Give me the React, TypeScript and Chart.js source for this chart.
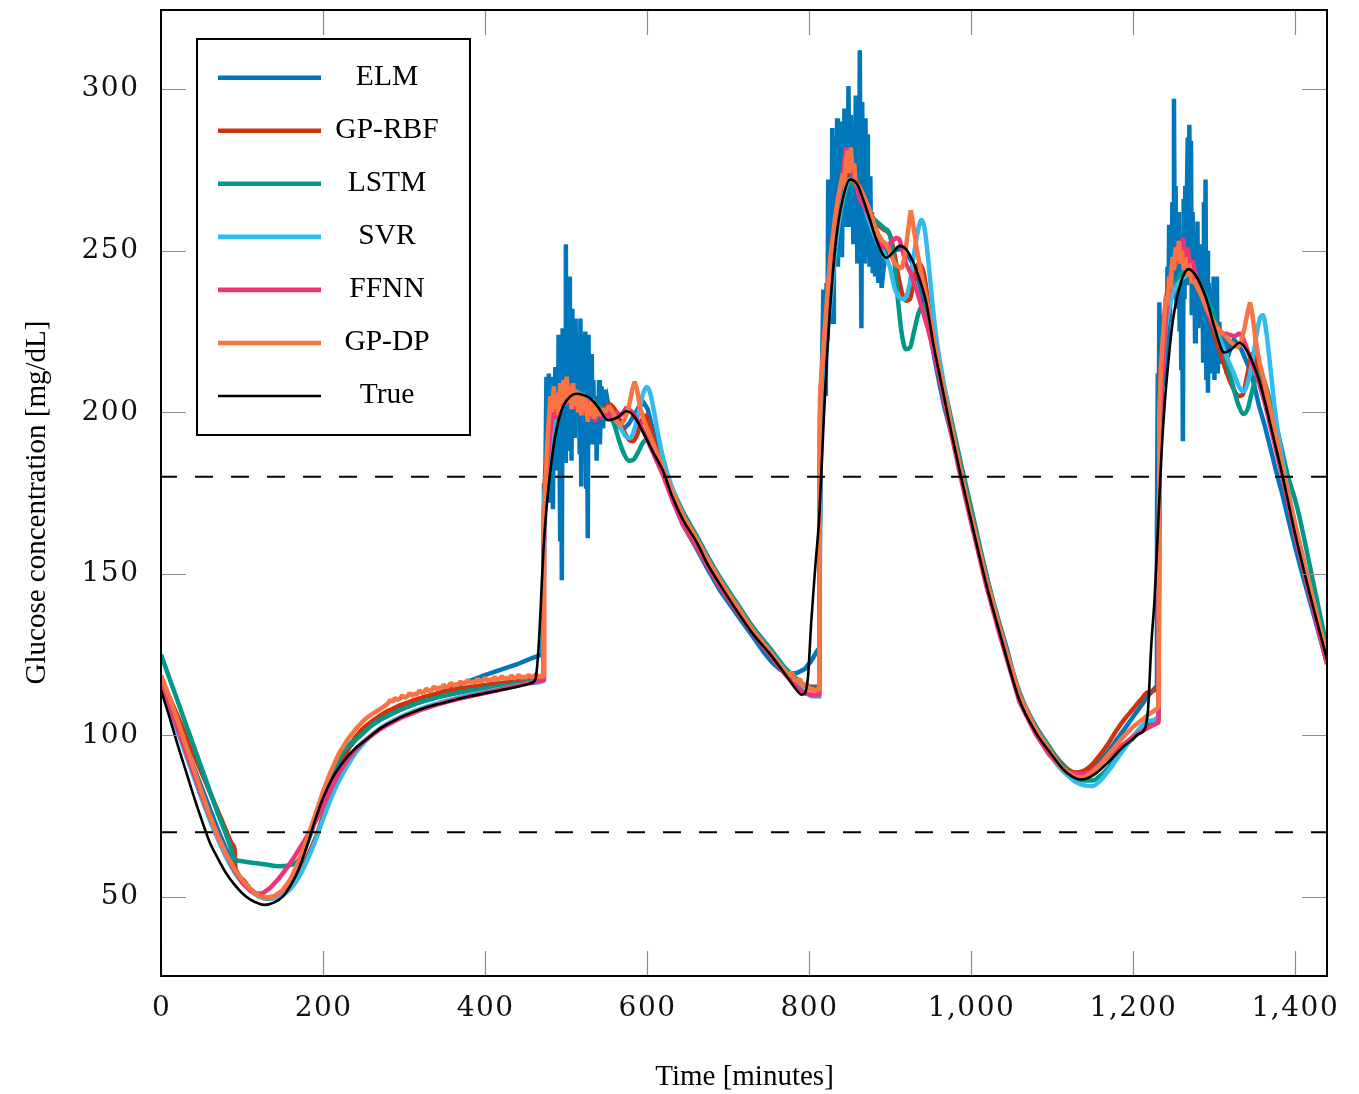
import { useEffect, useRef } from 'react';
import { Chart, registerables } from 'chart.js';

Chart.register(...registerables);

// ---- data: [time (min), glucose (mg/dL)] ----
const ELM: [number, number][] = [
  [0,116.5],[10,110],[20,103.5],[30,97],[40,90.5],[50,84],[60,77.5],[70,71],[80,65],[90,59.5],[100,55],[110,52],[120,50.3],[130,49.5],[140,49.8],[150,51.5],[160,55],[170,60.5],[180,67],[190,74],[200,80.5],[210,86.5],[220,91.5],[230,95.5],[240,98.5],[250,101],[260,103],[270,104.7],[280,106],[290,107.3],[300,108.5],[320,110.7],[340,112.7],[360,114.7],[383,117],[400,118.6],[420,120.3],[440,122],[455,123.6],[468,124.8],[471,125.2],
  [472,150],[473,178],[474,165],[476,211],[477,182],[478,205],[479,212],[480,172],[481,200],[482,211],[483,186],[484,170],[485,196],[486,188],[487,214],[488,192],[489,206],[490,182],[491,224],[492,196],[493,160],[494,215],[495,148],[496,226],[497,200],[498,218],[499,185],[500,252],[501,193],[502,215],[503,188],[504,242],[505,196],[506,218],[507,185],[508,232],[509,200],[510,210],[511,192],[512,229],[513,203],[514,214],[515,198],[516,222],[517,187],[518,229],[519,177],[520,224],[521,205],[522,215],[523,196],[524,225],[525,177],[526,219],[527,161],[528,224],[529,192],[530,212],[531,200],[532,218],[533,190],[534,210],[535,196],[537,205],[538,185],[539,203],[540,193],[541,210],[542,190],[544,208],[546,195],[548,207],[550,198],[552,203],[555,199],
  [560,197],[566,195.5],[572,195],[578,196.5],[584,199],[590,201.5],[596,203],[601,201],[606,196],[612,190],[620,182],[632,173],[645,165],[661,158],[675,151.5],[690,145],[711,137.5],[731,130.5],[745,125.5],[755,122.5],[765,120.3],[775,119.2],[785,119.3],[795,120.5],[803,123],[810,126],[813,127],
  [814,165],[816,209],[818,238],[819,214],[820,226],[821,205],[822,240],[823,222],[824,272],[825,236],[826,262],[827,245],[828,230],[829,288],[830,228],[831,275],[832,250],[833,285],[834,262],[835,291],[836,245],[837,280],[838,258],[839,290],[840,265],[841,248],[842,276],[843,260],[844,294],[845,270],[846,258],[847,285],[848,262],[849,301],[850,272],[851,258],[852,292],[853,266],[854,280],[855,252],[856,285],[857,262],[858,298],[859,270],[860,246],[861,282],[862,260],[863,312],[864,265],[865,226],[866,296],[867,255],[868,285],[869,246],[870,291],[871,260],[872,286],[873,248],[874,270],[875,245],[876,273],[877,250],[878,262],[879,243],[880,257],[882,242],[884,252],[886,240],[888,250],[890,238.5],[893,246],[896,250],[900,252],[905,250],[912,250.5],[920,250],[929,245.5],[937,239.5],[945,231],[950,224],[955,217],[962,208],[968,201],[975,194.5],[982,188],[988,182],[995,175.5],[1000,170],[1008,161],[1019,150],[1028,140.5],[1036,134],[1045,126.5],[1052,119.5],[1060,113],[1070,106],[1080,101.5],[1097,95],[1110,90.5],[1120,88],[1130,87.5],[1140,88],[1150,89.5],[1160,92],[1170,95],[1180,98.5],[1190,102],[1200,105.5],[1210,109],[1220,112.5],[1229,115],
  [1230,165],[1231,212],[1232,188],[1233,234],[1234,205],[1235,226],[1236,196],[1237,230],[1238,208],[1239,222],[1240,212],[1241,235],[1242,215],[1243,245],[1244,222],[1245,258],[1246,228],[1247,250],[1248,235],[1249,265],[1250,240],[1251,297],[1252,245],[1253,270],[1254,232],[1255,262],[1256,240],[1257,262],[1258,225],[1259,255],[1260,213],[1261,248],[1262,191],[1263,266],[1264,235],[1265,270],[1266,240],[1267,268],[1268,285],[1269,245],[1270,289],[1271,250],[1272,284],[1273,230],[1274,262],[1275,238],[1276,255],[1277,222],[1278,250],[1279,232],[1280,259],[1281,226],[1282,252],[1283,228],[1284,245],[1285,230],[1286,250],[1287,216],[1288,265],[1289,224],[1290,272],[1291,210],[1292,250],[1293,206],[1294,240],[1295,214],[1296,232],[1297,212],[1298,238],[1299,215],[1300,242],[1301,210],[1302,236],[1303,218],[1304,242],[1305,212],[1307,228],[1309,215],[1311,224],[1314,217],[1317,222],[1320,219],[1325,222.5],[1330,221],[1335,219],[1340,216],[1345,213],[1350,208.5],[1356,202],[1363,196],[1370,189],[1378,181],[1385,174.5],[1395,164],[1400,159],[1410,149.5],[1420,140.5],[1430,131.5],[1440,122.5],
];

const GP_RBF: [number, number][] = [
  [0,118],[10,112],[20,106.3],[30,100.4],[40,94.5],[50,88.5],[60,82.6],[70,76.7],[80,70.8],[88,66.3],[91,64.5],[92,58.5],[100,55.5],[110,52.5],[120,50.5],[130,49.5],[140,49.6],[150,50.8],[160,53],[170,57],[180,62],[187,66],[193,69.6],[200,75],[207,80],[214,84.5],[225,92],[235,97.5],[247,101.5],[260,104.3],[270,106],[280,107.5],[290,108.7],[300,109.7],[320,111.5],[340,112.9],[360,114],[380,114.9],[400,115.6],[420,116.2],[440,116.7],[460,117.2],[472,117.5],
  [473,170],[476,184],[480,195],[484,201],[488,204],[492,205],[497,206],[503,207],[509,205.5],[515,204.5],[522,204],[530,203],[540,201],[548,201.5],[554,202.5],[560,201],[566,198],[572,194],[578,191.5],[583,191],[588,193],[593,197],[598,199],[604,195.5],[610,190],[615,185.5],[620,182],[632,175],[645,168],[661,161.5],[675,155],[690,148.5],[711,140.5],[731,133],[752,126.5],[772,120],[785,117],[795,115.5],[805,115],[813,115],
  [814,200],[818,212],[822,224],[826,236],[834,255],[842,268],[851,275],[860,271],[867,266.5],[875,262],[884,258.5],[893,256.5],[900,255],[905,250],[910,243],[915,237],[920,234.5],[925,235],[930,241],[936,246],[942,243],[948,233],[955,221],[962,212],[975,196],[988,181],[1000,168],[1019,148],[1036,132.5],[1060,112],[1080,101.5],[1097,96],[1110,92],[1120,89.5],[1130,88.5],[1140,89],[1150,91],[1160,94],[1170,97.5],[1180,101.5],[1190,105],[1200,108],[1210,111],[1220,113.5],[1232,115.5],
  [1233,200],[1237,220],[1240,232],[1245,240],[1250,244.5],[1260,248],[1269,247],[1280,241],[1291,233],[1300,225],[1310,217],[1318,211],[1325,207],[1331,205],[1336,205.5],[1342,212],[1348,218],[1354,214],[1362,205],[1372,195],[1380,187],[1390,176],[1400,165],[1420,144],[1440,124],
];

const LSTM: [number, number][] = [
  [0,125],[10,118],[20,111],[30,104],[40,97],[50,90],[60,83],[70,76],[80,69.5],[87,64.5],[89,62.5],[92,61.5],[100,61],[115,60.5],[130,60],[145,59.5],[158,59.7],[166,60.5],[172,62],[178,65],[185,69.5],[192,75],[200,81.5],[210,88],[220,93],[230,96.5],[247,100],[260,103],[270,104.8],[288,107],[300,108.3],[320,110.2],[340,111.6],[360,112.8],[380,113.8],[400,114.6],[420,115.3],[440,116],[460,116.6],[472,117],
  [473,168],[477,180],[481,190],[485,196],[490,200],[497,203],[505,205],[513,205.5],[522,205],[530,204],[540,202],[548,200.5],[554,199],[560,196],[566,191],[572,187],[578,185],[583,185.2],[589,187.5],[595,190.5],[600,191.5],[607,189],[615,185],[620,182.5],[632,176],[645,169],[661,162],[675,155.5],[690,149],[711,141],[731,133.5],[752,127],[772,120.5],[785,117.5],[795,115.5],[805,114.5],[813,114.5],
  [814,198],[818,210],[822,222],[826,233],[834,253],[842,265],[851,270.5],[860,269.5],[867,266],[875,261],[884,259],[893,257],[900,255],[905,248],[910,235],[915,224],[920,219.5],[925,220],[930,225],[936,231],[942,233],[948,230],[955,223],[962,214],[975,199],[988,184],[1000,171],[1019,150],[1036,134],[1060,113.5],[1080,103],[1097,96.5],[1110,91.5],[1120,89],[1130,87],[1140,86],[1150,86],[1160,87.5],[1170,90],[1180,93.5],[1190,96.5],[1200,99],[1210,101.5],[1220,103.5],[1232,105.5],
  [1233,195],[1237,215],[1240,226],[1245,234],[1250,238.5],[1260,243],[1269,244.5],[1280,241],[1291,236],[1300,230],[1310,222],[1318,214],[1325,207],[1331,202],[1337,199.5],[1342,201],[1348,207],[1355,212],[1362,210],[1370,203],[1380,193],[1392,180],[1400,173.5],[1406,167.6],[1420,151],[1440,127],
];

const SVR: [number, number][] = [
  [0,115],[10,108.5],[20,101.5],[30,94.5],[40,87.5],[50,80.5],[60,74],[70,68],[80,62.5],[90,58],[100,54.5],[110,52],[120,50.3],[130,49.5],[140,49.5],[150,50.5],[160,52.5],[170,56],[180,61],[190,67],[200,74],[210,80.5],[220,86],[230,90.5],[240,94.5],[250,97.5],[260,100],[270,102],[280,103.6],[290,105],[300,106.2],[320,108.2],[340,109.8],[360,111.2],[380,112.4],[400,113.4],[420,114.4],[440,115.4],[460,116.3],[472,116.8],
  [473,170],[477,182],[481,191],[485,197],[490,201],[497,204],[505,205.5],[513,206],[522,205],[530,203.5],[540,201],[548,199.5],[555,198.5],[562,197.5],[568,195],[574,192.5],[579,192],[585,195],[590,200],[595,205.5],[600,207.8],[604,206],[609,200],[614,193],[620,186],[632,176],[645,168],[661,161],[675,154.5],[690,148],[711,140],[731,132.5],[752,126],[772,119.5],[785,116],[795,113.5],[805,112],[813,112],
  [814,198],[818,211],[822,223],[826,232],[834,253],[842,266],[851,272],[860,270],[867,265],[875,259],[884,253],[893,249],[900,245],[906,238.5],[912,235.5],[918,235],[924,239],[930,249],[935,256.5],[939,259.5],[943,257],[948,246],[953,233],[958,222],[966,210],[975,197],[988,181],[1000,168],[1019,148],[1036,132.5],[1060,112],[1080,101],[1097,94.5],[1110,90],[1120,87.5],[1130,85.5],[1140,84.5],[1150,84.3],[1160,86],[1170,89],[1180,92.5],[1190,96],[1200,99.5],[1210,102.5],[1220,104.5],[1232,106],
  [1233,195],[1237,213],[1240,224],[1245,232],[1250,237],[1260,241],[1269,242.5],[1280,239],[1291,233],[1300,227],[1310,221],[1318,216],[1325,212],[1331,208],[1337,206.5],[1342,209],[1348,216],[1353,224],[1357,229],[1361,230],[1365,225],[1370,214],[1376,200],[1385,185],[1400,166],[1420,145],[1440,124.5],
];

const FFNN: [number, number][] = [
  [0,116],[10,109.5],[20,102.5],[30,95.5],[40,88.5],[50,81.5],[60,75],[70,69],[80,63.5],[90,58.5],[100,54.5],[110,52],[118,51],[125,51],[135,52.8],[145,55.5],[155,58.8],[165,62.5],[175,66.5],[182,69.5],[190,73],[200,78],[210,83.5],[220,88.5],[230,92.3],[240,95.5],[250,98],[260,100],[270,101.8],[280,103.3],[290,104.6],[300,105.8],[320,107.8],[340,109.4],[360,110.8],[380,112],[400,113.1],[420,114.2],[440,115.3],[460,116.4],[472,117],
  [473,165],[476,180],[479,189],[482,196],[485,201],[488,198],[491,205],[494,200],[497,208],[500,202],[503,209],[506,203],[509,207],[512,201],[515,206],[518,200],[521,205],[524,199],[527,204],[530,198],[533,203],[536,197],[540,201],[545,198],[550,200],[556,198],[562,200],[568,199],[575,201.5],[582,200],[590,197],[597,193.5],[605,189],[612,185],[620,180.5],[632,172.5],[645,165],[661,158.5],[675,152.5],[690,146],[711,138.5],[731,131.5],[752,125],[772,118.5],[785,115],[795,113],[805,112.5],[813,112.5],
  [814,205],[817,215],[820,225],[824,237],[828,248],[832,257],[836,265],[840,270],[843,276],[846,282],[849,277],[852,279],[855,272],[859,270],[863,266],[868,264],[874,261],[880,257],[886,253],[892,251],[898,251],[903,253],[908,254],[912,253.5],[916,250],[920,246],[926,243],[933,238],[940,232],[947,226],[955,218],[962,210],[975,194.5],[988,179.5],[1000,166.5],[1019,146.5],[1036,131],[1060,110.5],[1080,100.5],[1097,94],[1110,90.5],[1120,88.5],[1130,88],[1140,88],[1150,89],[1160,91],[1170,93.5],[1180,95.5],[1190,97.5],[1200,99.5],[1210,101],[1220,102.5],[1232,104],
  [1233,190],[1235,205],[1238,218],[1241,229],[1244,236],[1247,243],[1250,248],[1253,245],[1256,252],[1259,249],[1262,254],[1265,247],[1268,251],[1271,244],[1274,247],[1279,241],[1285,237],[1291,232],[1297,228],[1304,226],[1311,224.5],[1319,224],[1326,223.5],[1332,224.5],[1337,222.5],[1342,219],[1348,215],[1355,210],[1363,203],[1375,190.5],[1385,180],[1400,162.5],[1420,142],[1440,122],
];

const GP_DP: [number, number][] = [
  [0,118.5],[10,112],[20,105],[30,97.5],[40,90],[50,82.5],[60,75.5],[70,69],[80,63.5],[90,59],[100,55.3],[110,52.5],[120,50.5],[130,49.8],[140,50.2],[150,52],[160,55.5],[170,61],[180,67.5],[190,75],[200,82.5],[210,89],[220,94.5],[230,98.5],[240,101.8],[250,104.5],[260,106.5],[270,108],[277,109.2],
  [280,109.8],[283,110.9],[286,110.4],[289,111.6],[292,110.9],[295,111.3],[298,112.4],[301,111.6],[304,112],[307,113.1],[310,112.2],[313,112.9],[316,112.6],[319,113.9],[322,113.1],[325,113.4],[328,114.5],[331,113.6],[334,113.9],[337,115.1],[340,114.2],[343,114.8],[346,114.5],[349,115.7],[352,114.9],[355,115.2],[358,116.3],[361,115.3],[364,115.8],[367,115.6],[370,116.7],[373,115.8],[376,116.2],[379,117.1],[382,116.2],[385,116.6],[388,116.4],[391,117.5],[394,116.7],[397,116.9],[400,117.8],[403,116.9],[406,117.3],[409,117.1],[412,118.1],[415,117.2],[418,117.5],[421,118.3],[424,117.4],[427,117.8],[430,117.6],[433,118.5],[436,117.6],[439,117.9],[442,118.7],[445,117.8],[448,118.1],[451,117.9],[454,118.8],[457,117.9],[460,118.2],[463,118.9],[466,118],[469,118.4],[472,118.3],
  [473,165],[475,178],[477,190],[479,198],[481,205],[483,200],[485,208],[487,201],[489,206],[491,199],[493,209],[495,203],[497,210],[499,204],[501,211],[503,203],[505,208],[507,201],[509,209],[511,202],[513,207],[515,200],[517,205],[519,199],[521,206],[523,200],[525,204],[527,197],[529,203],[531,199],[533,204],[535,198],[538,202],[541,199],[545,201],[549,200],[553,202],[558,200],[563,197],[568,196],[573,198],[578,202],[582,207],[585,209.5],[588,207],[592,201],[597,197],[602,194],[610,189],[620,182.5],[632,175],[645,168],[661,161],[675,154.5],[690,148],[711,140],[731,132.5],[752,126],[765,121.5],[772,119.5],[776,118.5],[779,119.6],[782,117.4],[786,116.7],[789,117.5],[792,115.6],[795,115.2],[798,115.9],[801,113.9],[804,114.6],[807,113.4],[810,114.3],[813,114],
  [814,205],[816,213],[818,220],[821,230],[824,240],[827,249],[830,255],[833,261],[836,266],[839,270],[842,274],[844,270],[846,278],[848,281],[850,274],[852,282],[854,275],[856,277],[858,271],[862,270],[866,268],[871,265],[876,262],[881,258],[886,255],[891,253],[896,252],[901,249],[906,246],[911,245],[915,244.5],[919,249],[923,257],[926,262.5],[929,258],[933,251],[939,243],[946,234.5],[955,222],[962,212.5],[975,197],[988,181.5],[1000,168.5],[1019,148.5],[1036,133],[1060,112.5],[1080,102],[1097,95.5],[1110,90.5],[1120,88.5],[1130,87],[1140,87],[1150,88.5],[1160,91],[1170,94],[1180,97],[1190,100],[1200,102.5],[1210,104.5],[1220,106.5],[1229,108],[1232,109],
  [1233,200],[1235,214],[1237,222],[1239,229],[1241,236],[1243,233],[1245,242],[1247,238],[1249,248],[1251,244],[1253,251],[1255,247],[1257,253],[1259,246],[1261,250],[1263,244],[1265,248],[1267,242],[1270,246],[1273,240],[1276,241],[1280,238.5],[1285,236],[1290,233],[1295,230.5],[1300,228],[1305,226],[1310,224.5],[1315,223.5],[1320,222],[1325,221],[1330,220],[1334,222],[1338,226],[1342,231],[1345,234],[1348,230],[1352,222],[1357,215],[1363,209],[1370,201],[1378,191.5],[1385,183],[1400,166],[1420,145],[1440,124.5],
];

const TRUE_BG: [number, number][] = [
  [0,114],[10,106],[20,97.5],[30,89.5],[40,81.5],[50,74],[60,67],[70,62],[80,57.5],[90,54],[100,51.2],[110,49.2],[120,48],[128,47.5],[140,48.3],[150,50],[160,53.5],[170,58.5],[180,65.5],[190,73.5],[200,80.5],[210,86],[220,90],[230,93.3],[240,96],[250,98],[260,100],[270,102],[280,103.5],[290,104.8],[300,106],[320,108],[340,109.5],[360,110.8],[380,112],[400,113],[420,114],[440,115],[455,116],[460,116.5],[463,118],[466,126],[469,140],[472,156],[476,170],[480,180],[484,188],[488,194],[492,198.5],[497,202],[505,204.8],[513,205.7],[522,205.3],[530,204.3],[540,201.5],[552,197.5],[563,198.3],[575,200.3],[585,198.5],[595,194],[607,188],[620,181.8],[632,173.5],[645,166.5],[661,160],[675,153],[690,146.8],[711,138.6],[731,131.4],[752,125.2],[772,118.5],[785,114],[791,112.6],[795,113],[799,118],[803,135],[808,152],[813,168],[818,195],[822,215],[826,231],[834,254],[842,266],[851,272],[860,270.5],[867,266],[875,260],[884,253],[896,247.8],[905,249.8],[912,251.5],[920,250.5],[929,246.5],[937,241],[945,234],[955,219.5],[962,211],[975,195],[988,180],[1000,167],[1019,147],[1036,131.5],[1060,111],[1080,101],[1097,95],[1114,89.5],[1125,87.3],[1135,86.3],[1145,86.8],[1155,88.3],[1167,91],[1180,94.3],[1190,96.8],[1200,98.8],[1208,100.5],[1215,102],[1219,108],[1223,128],[1227,142],[1232,168],[1236,189],[1240,204],[1245,218],[1250,229],[1260,240.5],[1269,244.3],[1280,241.5],[1291,235],[1302,225.5],[1313,218.5],[1322,219.5],[1332,221.5],[1340,219.5],[1348,215.5],[1356,210],[1363,203.5],[1375,191],[1385,180.5],[1400,163],[1420,142.5],[1440,123.5],
];

const SERIES_NAMES = ['ELM', 'GP-RBF', 'LSTM', 'SVR', 'FFNN', 'GP-DP', 'True'];
const SERIES_DATA = [ELM, GP_RBF, LSTM, SVR, FFNN, GP_DP, TRUE_BG];
const SERIES_COLORS = ['#0077BB', '#CC3311', '#009988', '#33BBEE', '#EE3377', '#FA7343', '#000000'];
const SERIES_SMOOTH = [false, true, true, true, false, false, true];
const SERIES_JOIN = ['miter', 'miter', 'miter', 'miter', 'bevel', 'bevel', 'miter'];

const X_TICKS = [0, 200, 400, 600, 800, 1000, 1200, 1400];
const X_TICK_LABELS = ['0', '200', '400', '600', '800', '1,000', '1,200', '1,400'];
const Y_TICKS = [50, 100, 150, 200, 250, 300];
const Y_TICK_LABELS = ['50', '100', '150', '200', '250', '300'];
const THRESHOLDS = [70, 180];
const X_TITLE = 'Time [minutes]';
const Y_TITLE = 'Glucose concentration [mg/dL]';

const decorPlugin = {
  id: 'decor',
  afterDatasetsDraw(chart: any) {
    const { ctx, chartArea: a, scales } = chart;
    const xs = scales.x;
    const ys = scales.y;
    ctx.save();

    // threshold lines
    ctx.strokeStyle = '#000';
    ctx.lineWidth = 2;
    ctx.setLineDash([18, 18]);
    ctx.lineDashOffset = 2;
    for (const v of THRESHOLDS) {
      const py = ys.getPixelForValue(v);
      ctx.beginPath();
      ctx.moveTo(a.left, py);
      ctx.lineTo(a.right, py);
      ctx.stroke();
    }
    ctx.setLineDash([]);

    // inner tick marks
    ctx.strokeStyle = '#8c8c8c';
    ctx.lineWidth = 1.2;
    const tl = 25;
    for (const v of Y_TICKS) {
      const py = Math.round(ys.getPixelForValue(v)) + 0.5;
      ctx.beginPath();
      ctx.moveTo(a.left, py); ctx.lineTo(a.left + tl, py);
      ctx.moveTo(a.right, py); ctx.lineTo(a.right - tl, py);
      ctx.stroke();
    }
    for (const v of X_TICKS) {
      const px = Math.round(xs.getPixelForValue(v)) + 0.5;
      ctx.beginPath();
      ctx.moveTo(px, a.bottom); ctx.lineTo(px, a.bottom - tl);
      ctx.moveTo(px, a.top); ctx.lineTo(px, a.top + tl);
      ctx.stroke();
    }

    // frame
    ctx.strokeStyle = '#000';
    ctx.lineWidth = 2;
    ctx.strokeRect(a.left, a.top, a.right - a.left, a.bottom - a.top);

    // tick labels
    ctx.fillStyle = '#111';
    ctx.font = '28px "DejaVu Serif"';
    (ctx as any).letterSpacing = '1.5px';
    ctx.textBaseline = 'middle';
    ctx.textAlign = 'right';
    Y_TICKS.forEach((v, i) => {
      ctx.fillText(Y_TICK_LABELS[i], a.left - 23 + 1.5, ys.getPixelForValue(v));
    });
    ctx.textAlign = 'center';
    X_TICKS.forEach((v, i) => {
      ctx.fillText(X_TICK_LABELS[i], xs.getPixelForValue(v) + 0.75, a.bottom + 33);
    });
    (ctx as any).letterSpacing = '0px';

    // axis titles
    ctx.fillStyle = '#000';
    ctx.font = '29px "Liberation Serif"';
    ctx.textBaseline = 'alphabetic';
    ctx.textAlign = 'center';
    ctx.fillText(X_TITLE, 744.5, 1085);
    ctx.save();
    ctx.translate(45, 502.5);
    ctx.rotate(-Math.PI / 2);
    ctx.fillText(Y_TITLE, 0, 0);
    ctx.restore();

    // legend
    const bx = 197, by = 39, bw = 273, bh = 396;
    ctx.fillStyle = '#fff';
    ctx.fillRect(bx, by, bw, bh);
    ctx.strokeStyle = '#000';
    ctx.lineWidth = 2;
    ctx.strokeRect(bx, by, bw, bh);
    ctx.font = '29.5px "Liberation Serif"';
    SERIES_NAMES.forEach((name, i) => {
      const ry = 77.7 + i * 53.05;
      ctx.strokeStyle = SERIES_COLORS[i];
      ctx.lineWidth = i === 6 ? 2.6 : 4.6;
      ctx.beginPath();
      ctx.moveTo(218, ry);
      ctx.lineTo(321, ry);
      ctx.stroke();
      ctx.fillStyle = '#000';
      ctx.fillText(name, 387, ry + 7.3);
    });

    ctx.restore();
  },
};

export default function App() {
  const canvasRef = useRef<HTMLCanvasElement>(null);

  useEffect(() => {
    if (!canvasRef.current) return;
    const datasets = SERIES_NAMES.map((name, i) => ({
      label: name,
      data: SERIES_DATA[i].map(([x, y]) => ({ x, y })),
      borderColor: SERIES_COLORS[i],
      backgroundColor: SERIES_COLORS[i],
      borderWidth: i === 6 ? 2.6 : 4.5,
      borderJoinStyle: SERIES_JOIN[i] as CanvasLineJoin,
      pointRadius: 0,
      fill: false,
      tension: 0,
      cubicInterpolationMode: SERIES_SMOOTH[i] ? ('monotone' as const) : ('default' as const),
      order: 6 - i,
    }));
    const chart = new Chart(canvasRef.current, {
      type: 'line',
      data: { datasets },
      options: {
        animation: false,
        responsive: true,
        maintainAspectRatio: false,
        events: [],
        layout: { padding: { left: 161, top: 10, right: 32, bottom: 118 } },
        scales: {
          x: { type: 'linear', min: 0, max: 1440, display: false },
          y: { type: 'linear', min: 25.5, max: 324.5, display: false },
        },
        plugins: {
          legend: { display: false },
          tooltip: { enabled: false },
        },
      },
      plugins: [decorPlugin],
    });
    return () => chart.destroy();
  }, []);

  return (
    <div style={{ position: 'absolute', left: 0, top: 0, width: 1359, height: 1094, background: '#fff' }}>
      <canvas ref={canvasRef} />
    </div>
  );
}
